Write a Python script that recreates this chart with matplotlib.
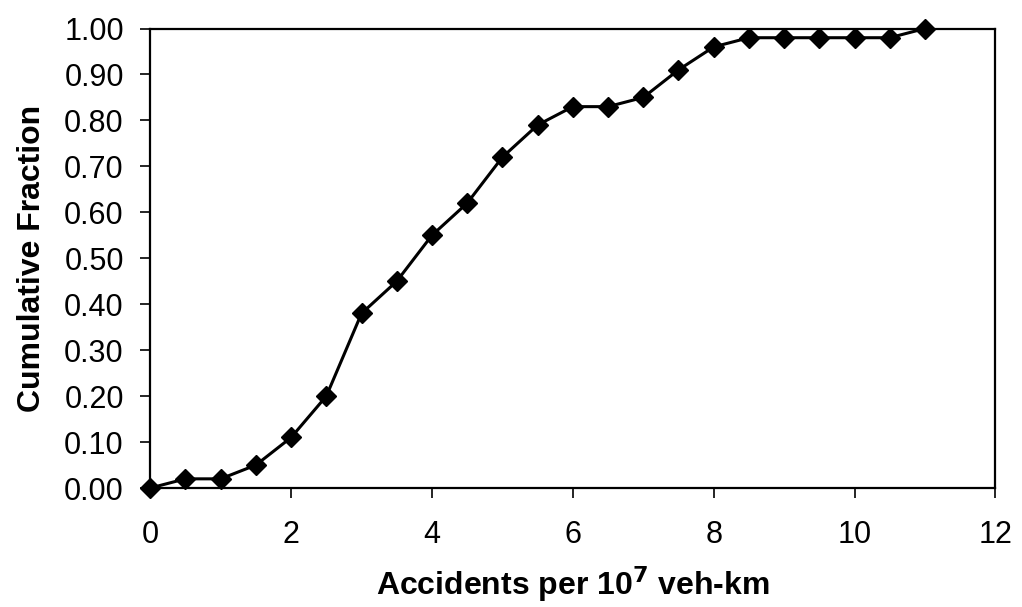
import matplotlib
matplotlib.use('Agg')
import matplotlib.pyplot as plt

# cumulative distribution
accidents = [0, 0.5, 1, 1.5, 2, 2.5, 3, 3.5, 4, 4.5, 5, 5.5,
             6, 6.5, 7, 7.5, 8, 8.5, 9, 9.5, 10, 10.5, 11]
cum_fraction = [0.00, 0.02, 0.02, 0.05, 0.11, 0.20, 0.38, 0.45, 0.55, 0.62, 0.72, 0.79,
                0.83, 0.83, 0.85, 0.91, 0.96, 0.98, 0.98, 0.98, 0.98, 0.98, 1.00]

x_ticks = [0, 2, 4, 6, 8, 10, 12]
y_ticks = [0.0, 0.1, 0.2, 0.3, 0.4, 0.5, 0.6, 0.7, 0.8, 0.9, 1.0]

plt.rcParams['font.family'] = ['Liberation Sans', 'DejaVu Sans']

fig = plt.figure(figsize=(10.22, 6.07), dpi=100)
ax = fig.add_axes([0.147, 0.196, 0.827, 0.757])

ax.plot(accidents, cum_fraction, color='black', linewidth=2.2,
        marker='D', markersize=10, markerfacecolor='black', clip_on=False, zorder=3)

ax.set_xlim(0, 12)
ax.set_ylim(0, 1.0)
ax.set_xticks(x_ticks)
ax.set_yticks(y_ticks)
ax.set_xticklabels([str(t) for t in x_ticks])
ax.set_yticklabels([f'{t:.2f}' for t in y_ticks])

ax.tick_params(direction='out', length=7, width=1.2, labelsize=22, color='black')
ax.tick_params(axis='x', pad=16)
ax.tick_params(axis='y', pad=12)
for side in ['left', 'bottom', 'top', 'right']:
    ax.spines[side].set_linewidth(1.6)

ax.set_xlabel('Accidents per 10$^{\\mathbf{7}}$ veh-km', fontsize=23, fontweight='bold', labelpad=10)
ax.set_ylabel('Cumulative Fraction', fontsize=23, fontweight='bold', labelpad=12)

fig.savefig('out.png', dpi=100)
